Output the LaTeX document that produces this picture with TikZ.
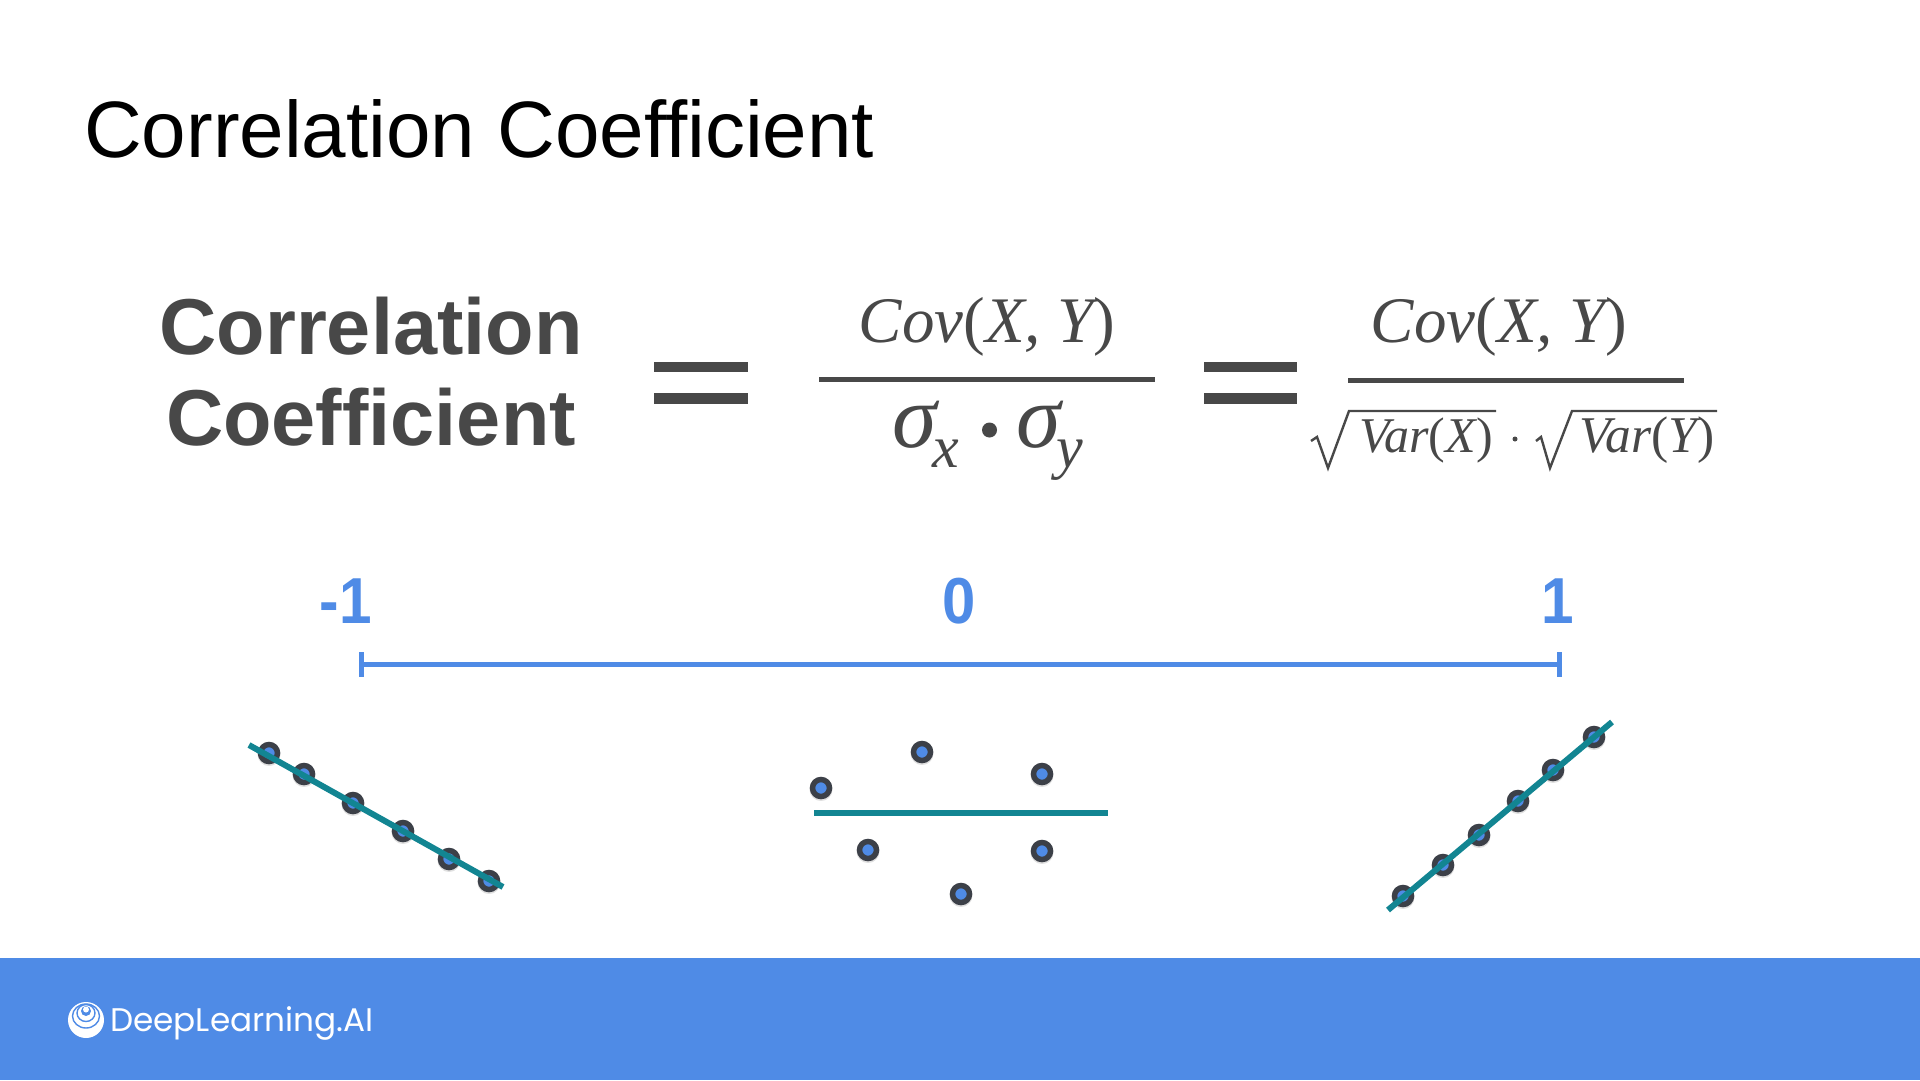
\documentclass[tikz,border=0pt]{standalone}
\usepackage{fontspec}
\setmainfont{Liberation Sans}
\newfontfamily\serifit{Liberation Serif}
\newfontfamily\popp{Poppins}
\definecolor{bandblue}{HTML}{4F8BE6}
\definecolor{inkgray}{HTML}{484848}
\definecolor{tealline}{HTML}{128592}
\definecolor{dotedge}{HTML}{3C4048}
\newcommand{\mathtxt}[2]{{\fontsize{#1}{#1}\serifit\itshape #2}}
\newcommand{\mathup}[2]{{\fontsize{#1}{#1}\serifit\upshape #2}}
\begin{document}
\begin{tikzpicture}[x=1pt,y=-1pt,
  txt/.style={inner sep=0pt,anchor=base,text=inkgray},
  txtl/.style={inner sep=0pt,anchor=base west,text=inkgray},
  fracbar/.style={draw=inkgray,line width=5pt},
  eqbar/.style={fill=inkgray,draw=none},
  radical/.style={draw=inkgray,line width=2.4pt,line join=miter},
  scaleline/.style={draw=bandblue,line width=5pt},
  scalelab/.style={inner sep=0pt,anchor=base,text=bandblue,font=\fontsize{65}{65}\selectfont\bfseries},
  fitline/.style={draw=tealline,line width=6pt},
  pt/.style={circle,draw=dotedge,line width=5.5pt,fill=bandblue,minimum size=17pt,inner sep=0pt},
  shade/.style={circle,fill=black,opacity=0.12,minimum size=23pt,inner sep=0pt,draw=none}]
\useasboundingbox (0,0) rectangle (1920,1080);
\fill[white] (0,0) rectangle (1920,1080);
\fill[bandblue] (0,958) rectangle (1920,1080);
% title
\node[inner sep=0pt,anchor=base west,text=black,font=\fontsize{80}{80}\selectfont] (title) at (84,157) {Correlation Coefficient};
% left label
\node[txt,font=\fontsize{79.3}{79.3}\selectfont\bfseries] (corr) at (371,354) {Correlation};
\node[txt,font=\fontsize{79.3}{79.3}\selectfont\bfseries] (coef) at (371,445) {Coefficient};
% equals
\fill[eqbar] (654,362) rectangle (748,372);
\fill[eqbar] (654,393) rectangle (748,404);
\fill[eqbar] (1204,362) rectangle (1297,372);
\fill[eqbar] (1204,393) rectangle (1297,404);
% fractions
\coordinate (f1a) at (819,379); \coordinate (f1b) at (1155,379);
\draw[fracbar] (f1a) -- (f1b);
\coordinate (f2a) at (1348,380.5); \coordinate (f2b) at (1684,380.5);
\draw[fracbar] (f2a) -- (f2b);
\node[txt] (cov1) at (987,342) {\mathtxt{65}{Cov}\mathup{65}{(}\mathtxt{65}{X, Y}\mathup{65}{)}};
\node[txt] (cov2) at (1499,342) {\mathtxt{65}{Cov}\mathup{65}{(}\mathtxt{65}{X, Y}\mathup{65}{)}};
% sigma
\node[txtl] (s1) at (892,447) {\mathtxt{90}{σ}\kern-4pt\raisebox{-20pt}{\mathtxt{60}{x}}};
\fill[inkgray] (989.5,430) circle (7.5);
\node[txtl] (s2) at (1016,447) {\mathtxt{90}{σ}\kern-4pt\raisebox{-20pt}{\mathtxt{60}{y}}};
% radicals
\draw[radical] (1311,441) -- (1317,437) -- (1328,468) -- (1349,411) -- (1496,411);
\node[txt] (v1) at (1426,452) {\mathtxt{50}{Var}\mathup{50}{(}\mathtxt{50}{X}\mathup{50}{)}};
\fill[inkgray] (1515,439) circle (2.5);
\draw[radical] (1536,441) -- (1541,437) -- (1550,468) -- (1572,411) -- (1717,411);
\node[txt] (v2) at (1647,452) {\mathtxt{51.5}{Var}\mathup{51.5}{(}\mathtxt{51.5}{Y}\mathup{51.5}{)}};
% scale
\node[scalelab] (m1) at (346,623) {\scalebox{.9}[1]{-1}};
\node[scalelab] (z) at (959,623) {\scalebox{.92}[1]{0}};
\node[scalelab] (p1) at (1558,623) {\scalebox{.9}[1]{1}};
\coordinate (sa) at (361,664.5); \coordinate (sb) at (1559,664.5);
\draw[scaleline] (sa) -- (sb);
\draw[scaleline] (361,652) -- (361,677);
\draw[scaleline] (1559,652) -- (1559,677);
% scatter negative
\foreach \n/\x/\y in {a1/269/753,a2/304/774,a3/353/803,a4/403/831,a5/449/859,a6/489/881}{
  \node[shade] at (\x,\y+1.5) {};
  \node[pt] (\n) at (\x,\y) {};
}
\coordinate (la) at (249,745); \coordinate (lb) at (503,887);
\draw[fitline] (la) -- (lb);
% scatter zero
\foreach \n/\x/\y in {b1/821/788,b2/922/752,b3/1042/774,b4/868/850,b5/1042/851,b6/961/894}{
  \node[shade] at (\x,\y+1.5) {};
  \node[pt] (\n) at (\x,\y) {};
}
\coordinate (ma) at (814,813); \coordinate (mb) at (1108,813);
\draw[fitline] (ma) -- (mb);
% scatter positive
\foreach \n/\x/\y in {c1/1403/896,c2/1443/865,c3/1479/835,c4/1518/801,c5/1553/770,c6/1594/737}{
  \node[shade] at (\x,\y+1.5) {};
  \node[pt] (\n) at (\x,\y) {};
}
\coordinate (na) at (1388,910); \coordinate (nb) at (1612,722);
\draw[fitline] (na) -- (nb);
% logo
\fill[white] (86,1020) circle (18);
\draw[bandblue,line width=1.4pt] (86,1016) ellipse (13.5 and 12);
\draw[bandblue,line width=1.4pt] (86,1013) ellipse (9 and 8.5);
\fill[bandblue] (86,1011) ellipse (5 and 5);
\fill[white] (86,1009.5) ellipse (3 and 3);
\node[inner sep=0pt,anchor=base west,text=white,font=\popp\fontsize{32.7}{32.7}\selectfont] (brand) at (110,1031) {DeepLearning.AI};
\end{tikzpicture}
\end{document}
